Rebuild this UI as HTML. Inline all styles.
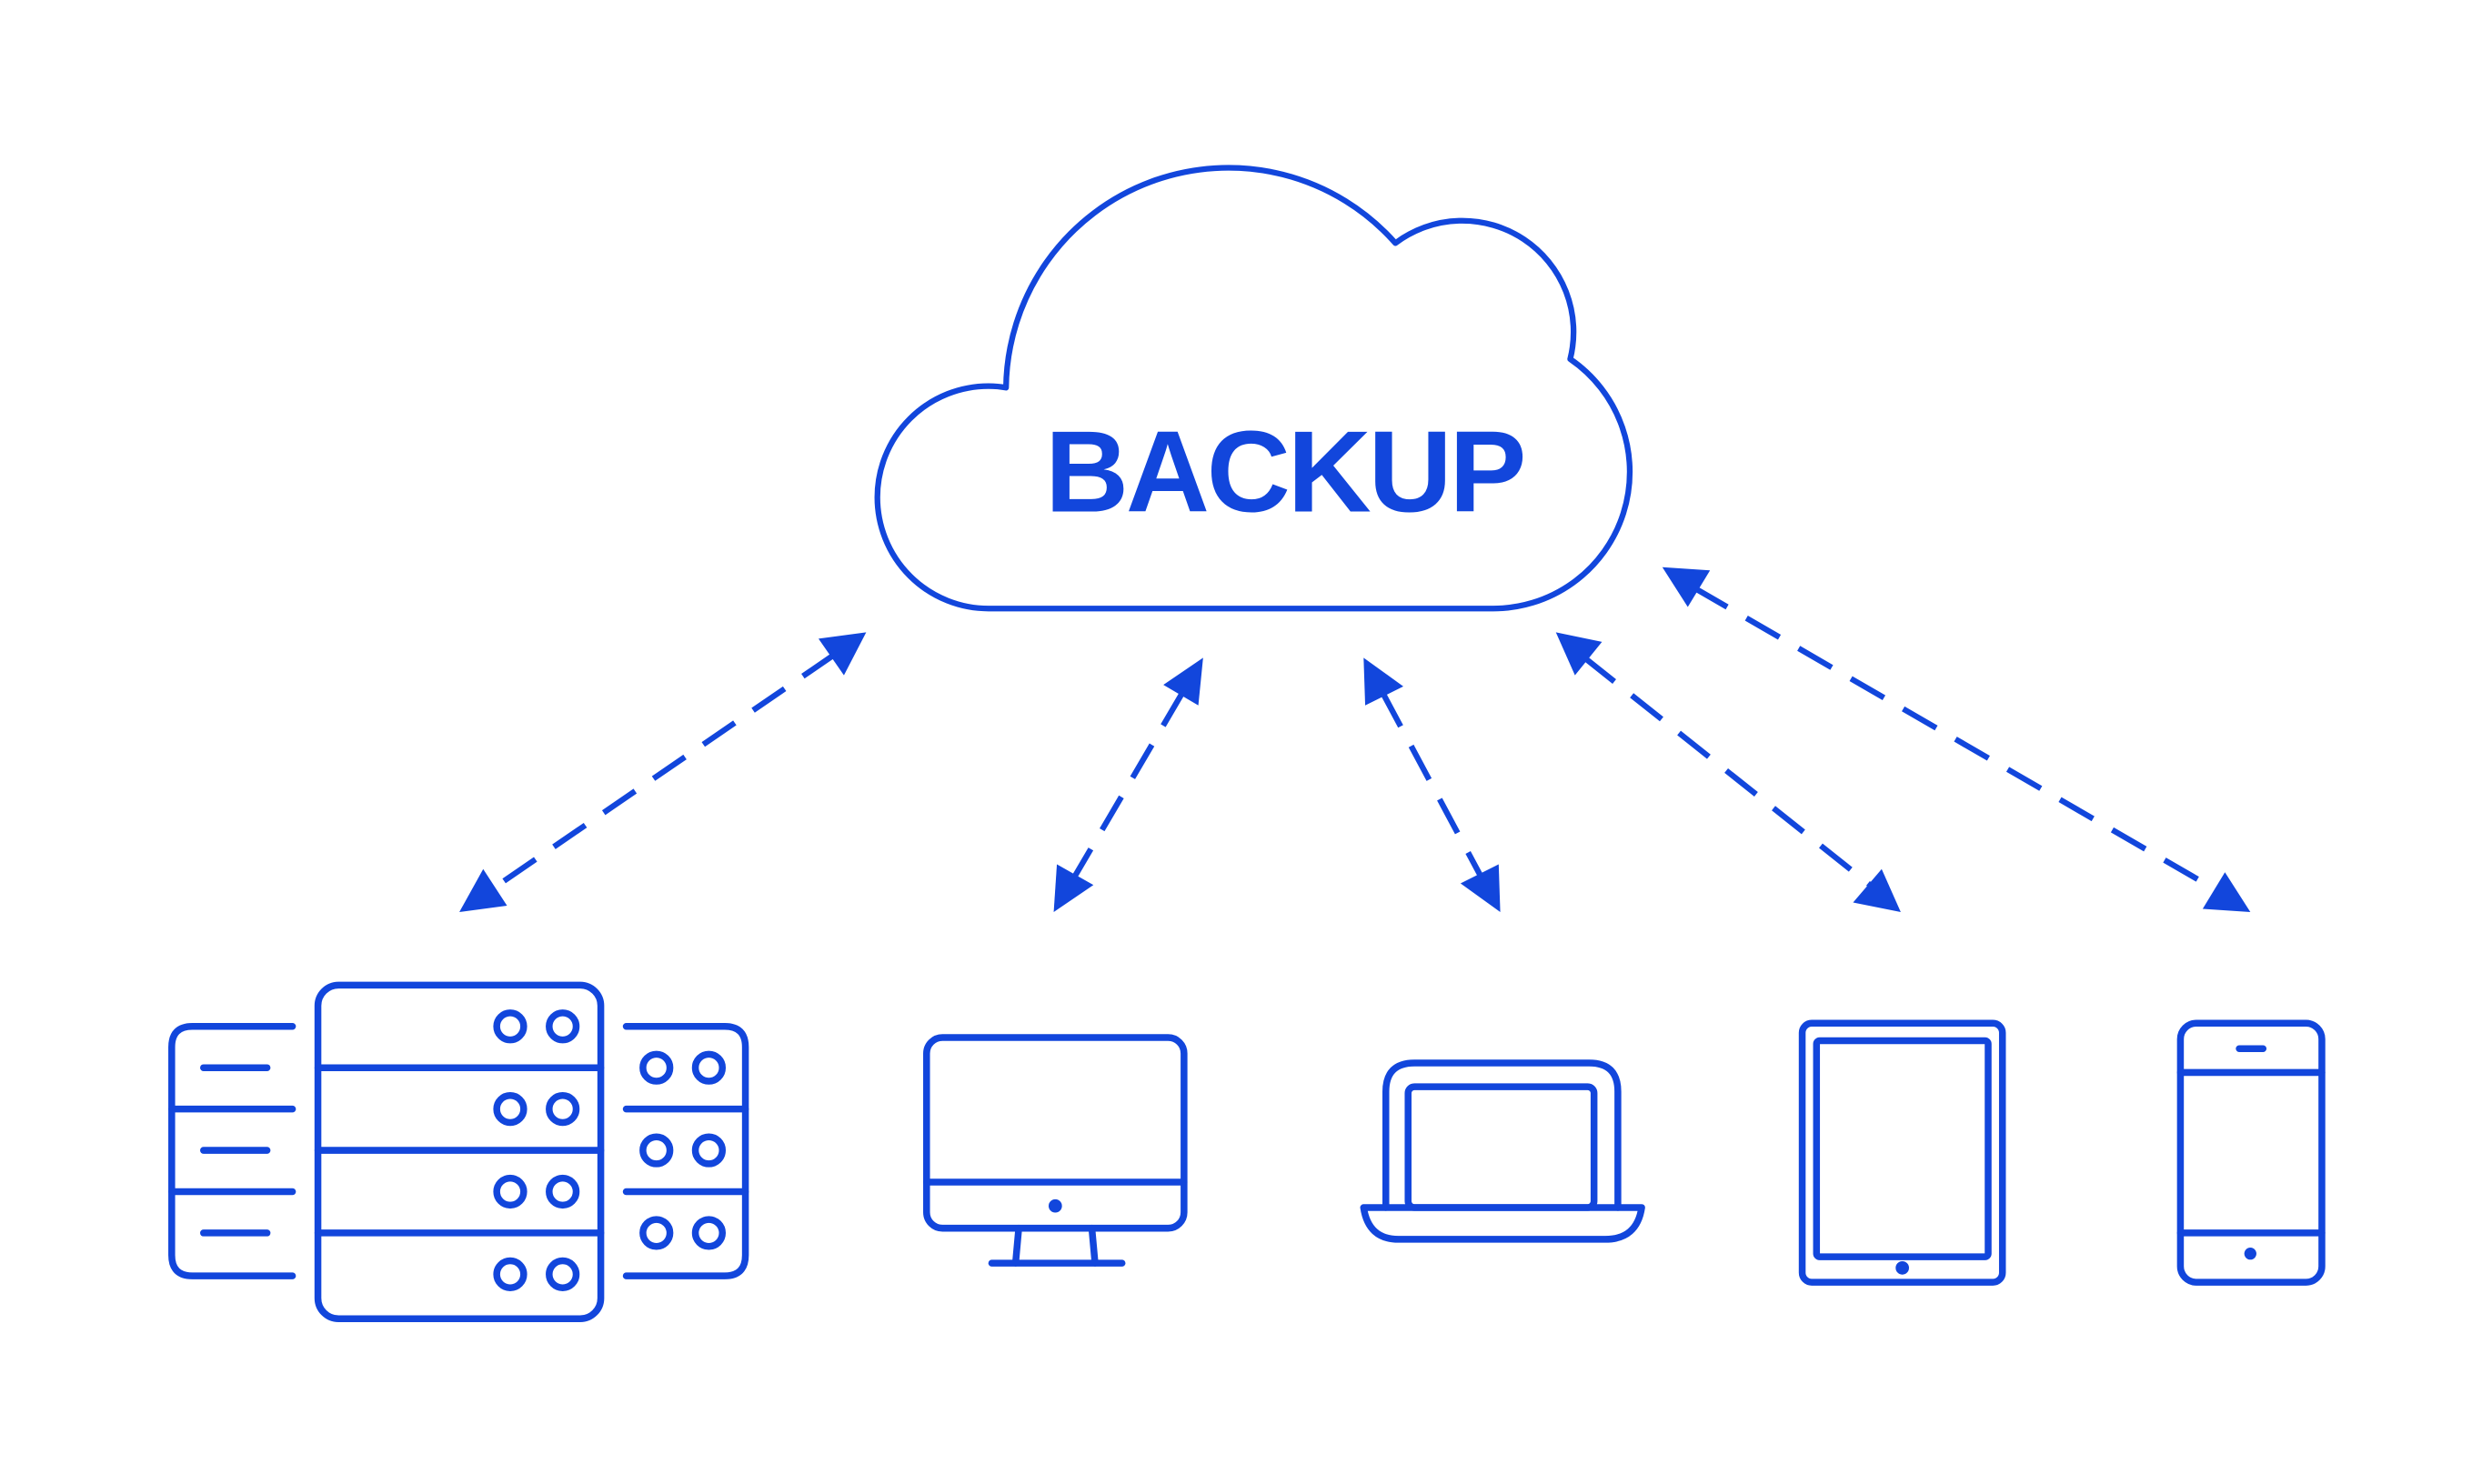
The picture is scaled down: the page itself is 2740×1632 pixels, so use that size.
<!DOCTYPE html>
<html><head><style>html,body{margin:0;padding:0;background:#fff}svg{display:block}</style></head>
<body>
<svg width="2740" height="1632" viewBox="0 0 1568 934" xmlns="http://www.w3.org/2000/svg">
<g fill="none" stroke="#1246DC" stroke-width="4.3" stroke-linecap="round" stroke-linejoin="round">
<!-- cloud -->
<path stroke-width="3.6" d="M622,383 A70,70 0 0 1 622,243 Q628,243 633,244 A140,140 0 0 1 878,153 A70,70 0 0 1 988,226 A86,86 0 0 1 938,383 Z"/>
<!-- dashed connectors -->
<g stroke-dasharray="24,14" stroke-linecap="butt" stroke-width="3.6">
<line x1="525" y1="412" x2="309" y2="560"/>
<line x1="744" y1="436" x2="676" y2="552"/>
<line x1="870" y1="436" x2="932" y2="552"/>
<line x1="997" y1="414" x2="1178" y2="558"/>
<line x1="1066" y1="370" x2="1396" y2="561"/>
</g>
<!-- server center -->
<rect x="200" y="620" width="178" height="210" rx="13"/>
<line x1="200" y1="672" x2="378" y2="672"/><line x1="200" y1="724" x2="378" y2="724"/><line x1="200" y1="776" x2="378" y2="776"/>
<circle cx="321" cy="646" r="8.5"/><circle cx="354" cy="646" r="8.5"/>
<circle cx="321" cy="698" r="8.5"/><circle cx="354" cy="698" r="8.5"/>
<circle cx="321" cy="750" r="8.5"/><circle cx="354" cy="750" r="8.5"/>
<circle cx="321" cy="802" r="8.5"/><circle cx="354" cy="802" r="8.5"/>
<!-- left server -->
<path d="M184,646 H121 Q108,646 108,659 V790 Q108,803 121,803 H184"/>
<line x1="108" y1="698" x2="184" y2="698"/><line x1="108" y1="750" x2="184" y2="750"/>
<line x1="128" y1="672" x2="168" y2="672"/><line x1="128" y1="724" x2="168" y2="724"/><line x1="128" y1="776" x2="168" y2="776"/>
<!-- right server -->
<path d="M394,646 H456 Q469,646 469,659 V790 Q469,803 456,803 H394"/>
<line x1="394" y1="698" x2="469" y2="698"/><line x1="394" y1="750" x2="469" y2="750"/>
<circle cx="413" cy="672" r="8.5"/><circle cx="446" cy="672" r="8.5"/>
<circle cx="413" cy="724" r="8.5"/><circle cx="446" cy="724" r="8.5"/>
<circle cx="413" cy="776" r="8.5"/><circle cx="446" cy="776" r="8.5"/>
<!-- monitor -->
<rect x="583" y="653" width="162" height="120" rx="10"/>
<line x1="583" y1="744" x2="745" y2="744"/>
<line x1="641" y1="773" x2="639" y2="795"/><line x1="687" y1="773" x2="689" y2="795"/>
<line x1="624" y1="795" x2="706" y2="795"/>
<!-- laptop -->
<path d="M872,760 V687 Q872,669 890,669 H1000 Q1018,669 1018,687 V760"/>
<rect x="886" y="684" width="117" height="76" rx="4"/>
<path d="M858,760 H1033 Q1030,780 1010,780 H880 Q861,780 858,760 Z"/>
<!-- tablet -->
<rect x="1134" y="644" width="126" height="163" rx="6"/>
<rect x="1143" y="655" width="108" height="136" rx="2"/>
<!-- phone -->
<rect x="1372" y="644" width="89" height="163" rx="10"/>
<line x1="1372" y1="675" x2="1461" y2="675"/><line x1="1372" y1="776" x2="1461" y2="776"/>
<line x1="1409" y1="660" x2="1424" y2="660"/>
</g>
<g fill="#1246DC">
<polygon points="545,398 515,402 531,425"/>
<polygon points="289,574 319,570 304,547"/>
<polygon points="757,414 732,431 754,444"/>
<polygon points="663,574 688,557 665,544"/>
<polygon points="858,414 859,444 883,432"/>
<polygon points="944,574 943,544 919,556"/>
<polygon points="979,398 991,425 1008,404"/>
<polygon points="1196,574 1184,547 1166,568"/>
<polygon points="1046,357 1062,382 1076,359"/>
<polygon points="1416,574 1400,549 1386,572"/>
<circle cx="664" cy="759" r="4.2"/>
<circle cx="1197" cy="798" r="4.2"/>
<circle cx="1416" cy="789" r="3.8"/>
<text x="809" y="322" text-anchor="middle" font-family="Liberation Sans, sans-serif" font-weight="bold" font-size="73" textLength="303">BACKUP</text>
</g>
</svg>
</body></html>
